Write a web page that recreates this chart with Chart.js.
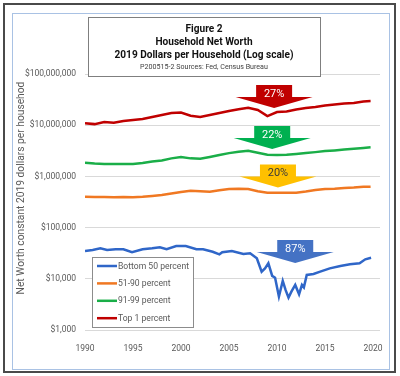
<!DOCTYPE html>
<html><head><meta charset="utf-8">
<script src="https://cdn.jsdelivr.net/npm/chart.js@4.4.1/dist/chart.umd.min.js"></script>
<style>html,body{margin:0;padding:0;background:#fff}#wrap{width:400px;height:376px;position:relative}</style>
</head><body><div id="wrap"><canvas id="c" width="400" height="376"></canvas></div>
<script>
// ---- data ----
const years = [1990,1991,1992,1993,1994,1995,1996,1997,1998,1999,2000,2001,2002,2003,2004,2005,2006,2007,2008,2009,2010,2011,2012,2013,2014,2015,2016,2017,2018,2019,2019.75];
const top1 = [10.9e6,10.5e6,11.5e6,11.2e6,12.1e6,12.6e6,13.2e6,14.5e6,15.8e6,17.3e6,17.7e6,15.3e6,14.5e6,15.8e6,17.3e6,18.9e6,20.5e6,22.0e6,19.8e6,15.1e6,18.1e6,18.5e6,20.3e6,21.7e6,22.6e6,24.3e6,25.4e6,26.5e6,27.1e6,29.1e6,29.6e6];
const p91_99 = [1.85e6,1.78e6,1.75e6,1.75e6,1.75e6,1.75e6,1.82e6,1.95e6,2.05e6,2.25e6,2.38e6,2.25e6,2.22e6,2.4e6,2.62e6,2.85e6,3.04e6,3.18e6,2.9e6,2.65e6,2.62e6,2.65e6,2.74e6,2.85e6,2.98e6,3.12e6,3.22e6,3.35e6,3.48e6,3.6e6,3.7e6];
const p51_90 = [402e3,395e3,398e3,391e3,395e3,392e3,400e3,415e3,434e3,465e3,495e3,526e3,515e3,503e3,535e3,565e3,575e3,568e3,515e3,481e3,478e3,480e3,481e3,505e3,540e3,570e3,575e3,595e3,605e3,625e3,630e3];
const bottomYears = [1990,1990.8,1991.6,1992.3,1993.2,1994,1994.9,1996,1997,1997.8,1998.5,1999.5,2000.5,2001.6,2002.3,2003.3,2004,2004.3,2005.3,2006.5,2007.2,2007.9,2008.4,2008.75,2009.1,2009.5,2009.8,2010.2,2010.6,2010.9,2011.2,2011.5,2011.9,2012.3,2012.6,2012.8,2013.1,2013.8,2014.5,2015.5,2016.6,2017.6,2018.6,2019.2,2019.8];
const bottom50 = [34.9e3,36.5e3,39.4e3,36.5e3,37.7e3,37.7e3,33.0e3,37.7e3,39.4e3,41.2e3,37.7e3,43.7e3,43.7e3,37.7e3,37.7e3,33.8e3,30.1e3,33.0e3,34.9e3,30.5e3,31.5e3,25.1e3,13.8e3,16.0e3,20.1e3,11.4e3,10.5e3,4.5e3,9.1e3,6.0e3,4.3e3,5.6e3,7.6e3,5.0e3,7.6e3,6.8e3,11.9e3,12.4e3,13.8e3,16.0e3,17.8e3,19.2e3,20.1e3,24.0e3,25.8e3];
const seriesLabels = ['Bottom 50 percent','51-90 percent','91-99 percent','Top 1 percent'];
const xTicks = [1990,1995,2000,2005,2010,2015,2020];
const yTicks = [1e3,1e4,1e5,1e6,1e7,1e8];
const titleLines = ['Figure 2','Household Net Worth','2019 Dollars per Household (Log scale)'];
const sourceLine = 'P200515-2 Sources: Fed, Census Bureau';
const yTitle = 'Net Worth constant 2019 dollars per househod';
const dropLabels = ['27%','22%','20%','87%'];
const dropYears = [2009.7,2009.5,2010.1,2011.9];
const dropValues = [2.17e7,3.43e6,6.07e5,2.04e4];

// ---- styles ----
const lineColors = ['#2F66C8','#F07822','#1AAE48','#C00000'];
const arrowColors = ['#C00000','#00B050','#FFC000','#4472C4'];
const arrowText = ['#FFFFFF','#FFFFFF','#3A3A3A','#FFFFFF'];
const FONT = 'Roboto, "Liberation Sans", sans-serif';

function pts(xs, ys){ return xs.map((x,i)=>({x:x, y:ys[i]})); }
function fitSize(ctx, text, width, weight){
  ctx.font = weight + ' 20px ' + FONT;
  return 20 * width / ctx.measureText(text).width;
}

const framePlugin = {
  id:'frame',
  beforeDraw(chart){
    const c = chart.ctx;
    c.save();
    c.fillStyle='#fff'; c.fillRect(0,0,chart.width,chart.height);
    c.strokeStyle='#4a4a4a'; c.lineWidth=2; c.strokeRect(4,4,391,368);
    c.strokeStyle='#A9C2E4'; c.lineWidth=1; c.strokeRect(12.5,13.5,377,356);
    c.restore();
  },
  afterDatasetsDraw(chart){
    const c = chart.ctx, xs = chart.scales.x, ys = chart.scales.y;
    const bodyW=36, bodyH=12, headW=77, headH=11;
    c.save();
    dropLabels.forEach((lab,i)=>{
      const tx = xs.getPixelForValue(dropYears[i]);
      const ty = ys.getPixelForValue(dropValues[i]);
      const hb = ty - headH, bt = hb - bodyH;
      c.beginPath();
      c.moveTo(tx - bodyW/2, bt);
      c.lineTo(tx + bodyW/2, bt);
      c.lineTo(tx + bodyW/2, hb);
      c.lineTo(tx + headW/2, hb);
      c.lineTo(tx, ty);
      c.lineTo(tx - headW/2, hb);
      c.lineTo(tx - bodyW/2, hb);
      c.closePath();
      c.fillStyle = arrowColors[i]; c.fill();
      c.fillStyle = arrowText[i];
      c.font = '11px ' + FONT;
      c.textAlign='center'; c.textBaseline='middle';
      c.fillText(lab, tx, bt + bodyH/2 + 3);
    });
    c.restore();
  },
  afterDraw(chart){
    const c = chart.ctx;
    c.save();
    // title box
    c.fillStyle='#fff'; c.fillRect(88,17,232,59);
    c.strokeStyle='#7F7F7F'; c.lineWidth=1; c.strokeRect(88.5,17.5,232,59);
    const ts = fitSize(c, titleLines[2], 179, 'bold');
    c.font = 'bold ' + ts.toFixed(2) + 'px ' + FONT;
    c.fillStyle='#111'; c.textAlign='center'; c.textBaseline='middle';
    titleLines.forEach((t,i)=> c.fillText(t, 204, 29 + i*13));
    const ss = fitSize(c, sourceLine, 128, 'normal');
    c.font = ss.toFixed(2) + 'px ' + FONT;
    c.fillStyle='#404040';
    c.fillText(sourceLine, 204, 67);
    // y axis title
    const ys = fitSize(c, yTitle, 213, 'normal');
    c.font = ys.toFixed(2) + 'px ' + FONT;
    c.fillStyle='#595959';
    c.translate(21,188); c.rotate(-Math.PI/2);
    c.fillText(yTitle, 0, 0);
    c.setTransform(1,0,0,1,0,0);
    // legend
    c.fillStyle='#fff'; c.fillRect(92,257,101,70);
    c.strokeStyle='#8C8C8C'; c.strokeRect(92.5,257.5,101,70);
    c.textAlign='left';
    c.font = '8.6px ' + FONT;
    chart.data.datasets.forEach((ds,i)=>{
      const y = 266 + i*17.4;
      c.strokeStyle = ds.borderColor; c.lineWidth = 2.5;
      c.beginPath(); c.moveTo(97,y); c.lineTo(117,y); c.stroke();
      c.fillStyle='#595959';
      c.fillText(ds.label, 118, y+0.5);
    });
    c.restore();
  }
};

const datasets = [pts(bottomYears,bottom50), pts(years,p51_90), pts(years,p91_99), pts(years,top1)].map((d,i)=>({
  label: seriesLabels[i], data: d, borderColor: lineColors[i], backgroundColor: lineColors[i],
  borderWidth: 2.5, pointRadius: 0, tension: 0, fill:false
}));

new Chart(document.getElementById('c'), {
  type:'line',
  data:{datasets},
  options:{
    responsive:false, animation:false, devicePixelRatio:1,
    layout:{padding:{left:0, top:74, right:20, bottom:16}},
    plugins:{legend:{display:false}, title:{display:false}, tooltip:{enabled:false}},
    scales:{
      x:{type:'linear', min:1990, max:2020.73,
        afterBuildTicks(s){ s.ticks = xTicks.map(v=>({value:v})); },
        afterFit(s){ s.height = 30; },
        grid:{display:false}, border:{display:false},
        ticks:{color:'#595959', font:{family:FONT, size:8.5}, padding:6, maxRotation:0, autoSkip:false, callback:v=>String(v)}
      },
      y:{type:'logarithmic', min:1e3, max:1e8,
        afterBuildTicks(s){ s.ticks = yTicks.map(v=>({value:v})); },
        afterFit(s){ s.width = 85; },
        grid:{color:'#D9D9D9', lineWidth:1, drawTicks:false}, border:{display:false},
        ticks:{color:'#595959', font:{family:FONT, size:8.5}, padding:9, callback:v=>'$'+Number(v).toLocaleString('en-US')}
      }
    }
  },
  plugins:[framePlugin]
});
</script></body></html>
